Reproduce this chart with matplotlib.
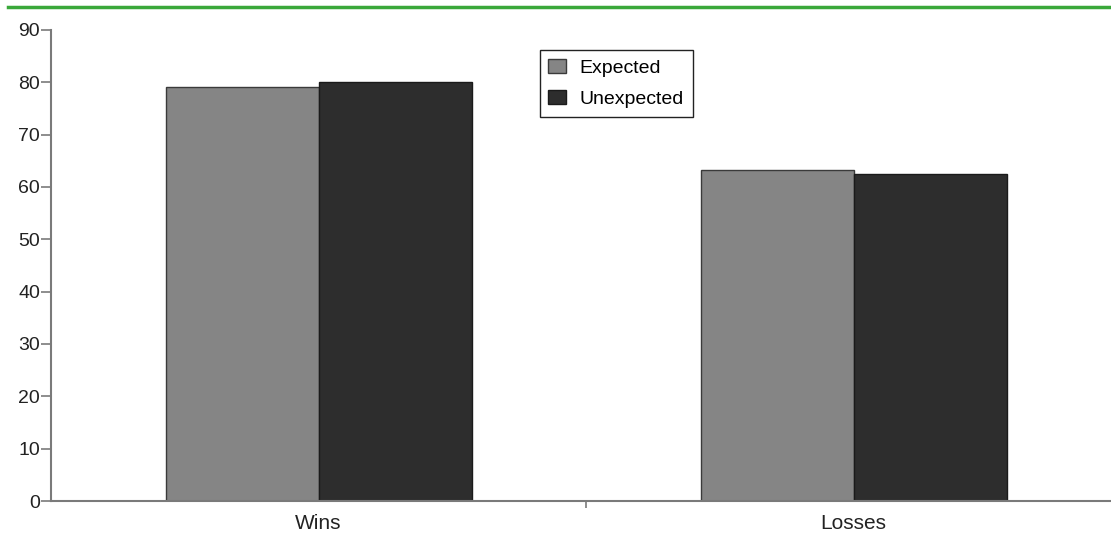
import numpy as np
from matplotlib import pyplot as plt
from matplotlib.lines import Line2D

categorie = ['Wins', 'Losses']
expected = [79.1, 63.3]
unexpected = [80.0, 62.5]
yticks = [0, 10, 20, 30, 40, 50, 60, 70, 80, 90]

plt.rcParams['font.family'] = ['Liberation Sans', 'DejaVu Sans']

fig = plt.figure(figsize=(11.11, 5.33), dpi=100)
ax = fig.add_axes([51/1111, 32/533, 1060/1111, 471/533])

x = np.arange(len(categorie))
w = 0.286
ax.bar(x - w/2, expected, w, color='#858585', edgecolor='#3a3a3a', linewidth=1, label='Expected')
ax.bar(x + w/2, unexpected, w, color='#2d2d2d', edgecolor='#1a1a1a', linewidth=1, label='Unexpected')

ax.set_xlim(-0.5, 1.481)
ax.set_ylim(0, 90)
ax.set_yticks(yticks)
ax.set_xticks([0.5])
ax.set_xticklabels([''])
# etichette delle categorie senza tacche
for xi, nome in zip(x, categorie):
    ax.text(xi, -2.4, nome, ha='center', va='top', fontsize=15, color='#222222')

for s in ['top', 'right']:
    ax.spines[s].set_visible(False)
for s in ['left', 'bottom']:
    ax.spines[s].set_color('#7a7a7a')
    ax.spines[s].set_linewidth(1.5)
ax.tick_params(axis='y', length=7, width=1.2, color='#7a7a7a', labelsize=14, labelcolor='#222222', pad=0.8)
ax.tick_params(axis='x', length=5, width=1.2, color='#7a7a7a', direction='out')

ax.legend(loc='upper left', bbox_to_anchor=(0.461, 0.957), borderaxespad=0, fontsize=14,
          fancybox=False, framealpha=1, edgecolor='#222222', handlelength=0.9, handleheight=0.7,
          handletextpad=0.7, labelspacing=0.7, borderpad=0.45)

# linea verde in alto (resto del titolo)
fig.add_artist(Line2D([8/1111, 1], [1 - 7/533, 1 - 7/533], color='#3aa83a', linewidth=2.5, transform=fig.transFigure))

plt.savefig('out.png', dpi=100)
